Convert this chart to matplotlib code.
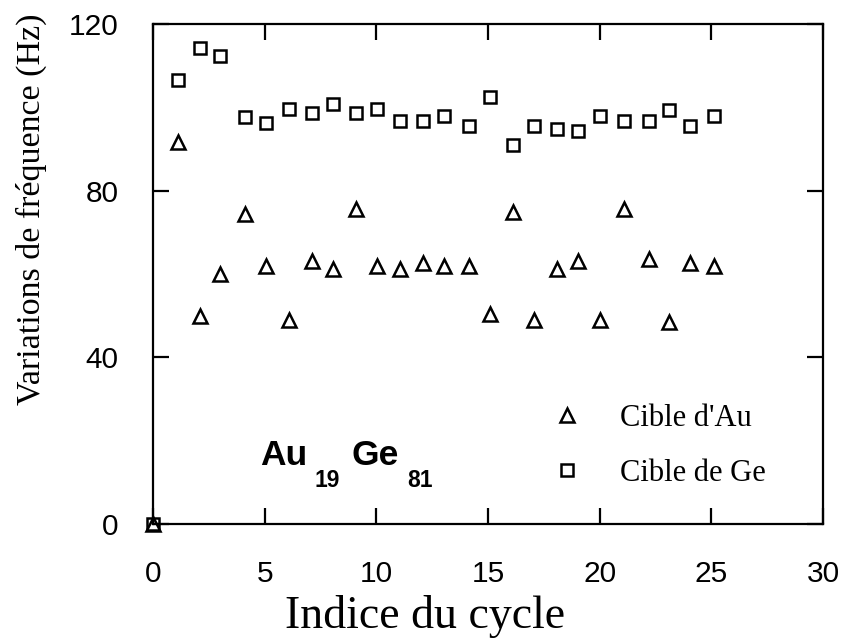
import matplotlib
matplotlib.use("Agg")
import matplotlib.pyplot as plt

cycle_ge = [0, 1.1, 2.1, 3.0, 4.1, 5.05, 6.1, 7.1, 8.05, 9.1, 10.05, 11.05, 12.1, 13.05, 14.15,
            15.1, 16.1, 17.05, 18.1, 19.05, 20.0, 21.1, 22.2, 23.1, 24.05, 25.1]
freq_ge = [0, 106.5, 114.2, 112.3, 97.7, 96.2, 99.6, 98.6, 100.8, 98.6, 99.6, 96.7, 96.7, 97.9, 95.5,
           102.5, 91.0, 95.5, 94.8, 94.3, 97.9, 96.7, 96.7, 99.4, 95.5, 97.9]

cycle_au = [0, 1.1, 2.1, 3.0, 4.1, 5.05, 6.1, 7.1, 8.05, 9.1, 10.05, 11.05, 12.1, 13.05, 14.15,
            15.1, 16.1, 17.05, 18.1, 19.05, 20.0, 21.1, 22.2, 23.1, 24.05, 25.1]
freq_au = [0, 91.7, 49.9, 60.0, 74.4, 61.9, 49.0, 63.1, 61.2, 75.6, 61.9, 61.2, 62.6, 61.9, 61.9,
           50.4, 74.9, 49.0, 61.2, 63.1, 49.0, 75.6, 63.6, 48.5, 62.6, 61.9]

x_ticks = [0, 5, 10, 15, 20, 25, 30]
y_ticks = [0, 40, 80, 120]

fig = plt.figure(figsize=(8.41, 6.4), dpi=100)
ax = fig.add_axes([153/841, 1-524/640, (823-153)/841, (524-24)/640])

ax.plot(cycle_au, freq_au, linestyle='none', marker='^', markersize=9.5,
        markerfacecolor='none', markeredgecolor='black', markeredgewidth=1.8,
        label="Cible d'Au", clip_on=False)
ax.plot(cycle_ge, freq_ge, linestyle='none', marker='s', markersize=8.5,
        markerfacecolor='none', markeredgecolor='black', markeredgewidth=1.8,
        label='Cible de Ge', clip_on=False)

ax.set_xlim(0, 30)
ax.set_ylim(0, 120)
ax.set_xticks(x_ticks)
ax.set_yticks(y_ticks)
for s in ax.spines.values():
    s.set_linewidth(1.6)
ax.tick_params(direction='in', length=11.5, width=1.6, top=True, right=True,
               labelsize=21.5)
ax.tick_params(axis='x', pad=26)
ax.tick_params(axis='y', pad=25)
for lab in ax.get_xticklabels() + ax.get_yticklabels():
    lab.set_fontfamily('Liberation Sans')

ax.set_xlabel('Indice du cycle', fontfamily='Liberation Serif', fontsize=33)
ax.xaxis.set_label_coords((425-153)/670, (524-617)/500)
ax.xaxis.label.set_verticalalignment('center')
ax.set_ylabel('Variations de fréquence (Hz)', fontfamily='Liberation Serif', fontsize=24.5)
ax.yaxis.set_label_coords((31-153)/670, (524-209)/500)
ax.yaxis.label.set_verticalalignment('center')

leg = ax.legend(loc='lower right', bbox_to_anchor=((778-153)/670, (524-500)/500),
                frameon=False, prop={'family': 'Liberation Serif', 'size': 22},
                handletextpad=1.0, labelspacing=0.85, handlelength=1.5, borderaxespad=0)

ax.text(4.79, 14.2, 'Au', fontfamily='Liberation Sans', fontweight='bold', fontsize=25.5,
        ha='left', va='baseline')
ax.text(7.25, 8.9, '19', fontfamily='Liberation Sans', fontweight='bold', fontsize=16.5,
        ha='left', va='baseline')
ax.text(8.91, 14.2, 'Ge', fontfamily='Liberation Sans', fontweight='bold', fontsize=25.5,
        ha='left', va='baseline')
ax.text(11.37, 8.9, '81', fontfamily='Liberation Sans', fontweight='bold', fontsize=16.5,
        ha='left', va='baseline')

fig.savefig('out.png', dpi=100)
